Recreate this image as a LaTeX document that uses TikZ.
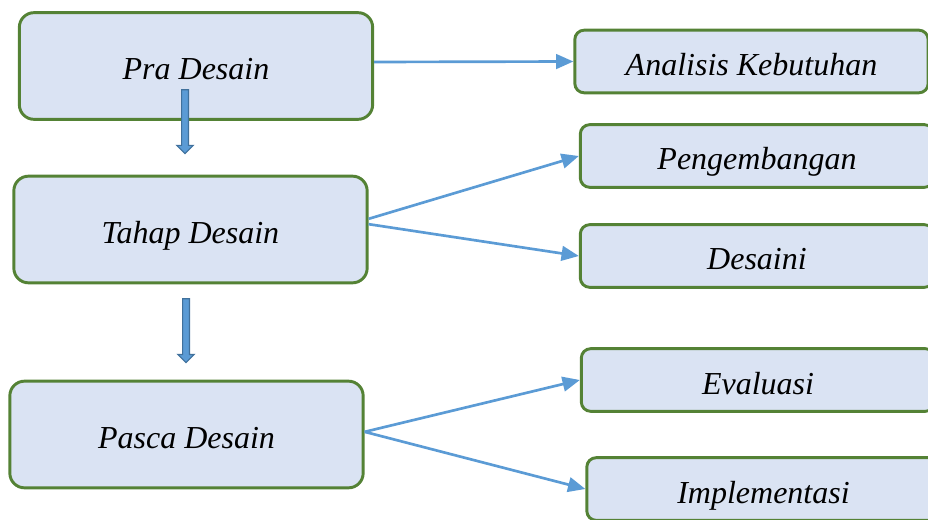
\documentclass[tikz,border=0pt]{standalone}
\usepackage{fontspec}
\setmainfont{Liberation Serif}
\usetikzlibrary{arrows.meta, positioning, shapes.arrows}

\definecolor{boxfill}{HTML}{DAE3F3}
\definecolor{boxline}{HTML}{548235}
\definecolor{arrowblue}{HTML}{5B9BD5}
\definecolor{blockline}{HTML}{41719C}

\begin{document}
\begin{tikzpicture}[
    x=0.75pt, y=-0.75pt,
    stage/.style={rectangle, rounded corners=11pt, draw=boxline, line width=2.2pt, fill=boxfill,
        minimum width=265pt, minimum height=80pt, align=center, text height=24pt, text depth=3pt,
        font=\fontsize{24}{28}\selectfont\itshape},
    task/.style={rectangle, rounded corners=7pt, draw=boxline, line width=2.2pt, fill=boxfill,
        minimum width=265pt, minimum height=47pt, align=center, text height=24pt, text depth=3pt,
        inner sep=2pt, font=\fontsize{24}{28}\selectfont\itshape},
    arrow/.style={-{Triangle[length=13pt,width=11pt]}, draw=arrowblue, line width=2pt},
    blockarrow/.style={single arrow, draw=blockline, fill=arrowblue, line width=0.8pt,
        inner sep=2.2pt, single arrow head extend=3.6pt, minimum height=48pt,
        shape border rotate=270}
]
\useasboundingbox (0,0) rectangle (928,520);
\clip (0,0) rectangle (928,520);

% Nodes
\node[stage] (pra) at (196,66) {Pra Desain};
\node[stage] (tahap) at (190.5,229.5) {Tahap Desain};
\node[stage] (pasca) at (186.5,434.5) {Pasca Desain};

\node[task] (analisis) at (751.5,61.5) {Analisis Kebutuhan};
\node[task] (pengembangan) at (757,156) {Pengembangan};
\node[task] (desaini) at (757,256) {Desaini};
\node[task] (evaluasi) at (758,380) {Evaluasi};
\node[task] (implementasi) at (763.5,489) {Implementasi};

% Block arrows
\node[blockarrow] (down1) at (185,120) {};
\node[blockarrow] (down2) at (186,329) {};

% Arrows
\draw[arrow] ([yshift=3pt]pra.east) -- (analisis.west);
\draw[arrow] ([yshift=8pt]tahap.east) -- (pengembangan.west);
\draw[arrow] ([yshift=4pt]tahap.east) -- (desaini.west);
\draw[arrow] ([yshift=2pt]pasca.east) -- (evaluasi.west);
\draw[arrow] ([yshift=2pt]pasca.east) -- (implementasi.west);

\end{tikzpicture}
\end{document}
